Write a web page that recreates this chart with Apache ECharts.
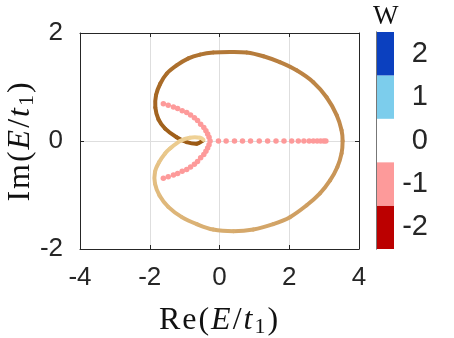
<!DOCTYPE html>
<html>
<head>
<meta charset="utf-8">
<script src="https://cdn.jsdelivr.net/npm/echarts@6/dist/echarts.min.js"></script>
<style>
  html, body { margin: 0; padding: 0; background: #fff; }
  #chart { width: 454px; height: 338px; }
</style>
</head>
<body>
<div id="chart"></div>
<script>
// 周期边界谱 (闭合曲线), 从尖点出发沿深色支绕一圈
const curveRe = [-0.47, -0.65, -0.94, -1.23, -1.56, -1.75, -1.84, -1.82, -1.70, -1.51,
  -1.23, -0.89, -0.56, -0.18, 0.30, 0.78, 1.26, 1.73, 2.21, 2.69,
  3.07, 3.36, 3.50, 3.53, 3.50, 3.38, 3.17, 2.88, 2.50, 2.02,
  1.54, 0.97, 0.40, -0.18, -0.65, -1.08, -1.47, -1.72, -1.85, -1.85,
  -1.73, -1.56, -1.42, -1.13, -0.85, -0.56, -0.46];
const curveIm = [0.01, -0.05, -0.02, 0.07, 0.23, 0.40, 0.62, 0.85, 1.06, 1.25,
  1.40, 1.53, 1.60, 1.64, 1.65, 1.64, 1.57, 1.46, 1.31, 1.09,
  0.81, 0.48, 0.20, 0.00, -0.23, -0.48, -0.73, -0.97, -1.19, -1.41,
  -1.54, -1.64, -1.67, -1.64, -1.54, -1.41, -1.22, -1.01, -0.79, -0.57,
  -0.39, -0.23, -0.14, 0.00, 0.06, 0.06, 0.02];

// 开边界本征值
const obcRe = [-1.61, -1.47, -1.32, -1.20, -1.07, -0.94, -0.83, -0.72, -0.63, -0.54, -0.45, -0.39, -0.34, -0.30,
  -0.27, -0.03, 0.19, 0.43, 0.66, 0.89, 1.14, 1.38, 1.62, 1.85, 2.07, 2.26, 2.42, 2.57, 2.69, 2.80, 2.90, 2.99, 3.05,
  -0.30, -0.34, -0.39, -0.45, -0.54, -0.63, -0.72, -0.83, -0.94, -1.07, -1.20, -1.32, -1.47, -1.61];
const obcIm = [0.69, 0.66, 0.63, 0.60, 0.56, 0.53, 0.48, 0.43, 0.38, 0.31, 0.25, 0.19, 0.13, 0.07,
  0, 0, 0, 0, 0, 0, 0, 0, 0, 0, 0, 0, 0, 0, 0, 0, 0, 0, 0,
  -0.07, -0.13, -0.19, -0.25, -0.31, -0.38, -0.43, -0.48, -0.53, -0.56, -0.60, -0.63, -0.66, -0.69];

const xTicks = [-4, -2, 0, 2, 4];
const yTicks = [-2, 0, 2];
// 颜色条 (绕数 W)
const windingLabels = ["-2", "-1", "0", "1", "2"];
const windingColors = ["#bb0000", "#fd9a9a", "#ffffff", "#7ccdec", "#0b40bf"];

const axisColor = "#262626";
const sansFont = "'Liberation Sans', Arial, sans-serif";
const serifFont = "'Liberation Serif', 'Times New Roman', serif";

// 曲线颜色: 深棕 -> 浅棕
const colorStops = [[154, 88, 18], [196, 142, 80], [241, 212, 152]];
function curveColor(t) {
  let seg = t < 0.5 ? 0 : 1;
  let f = t < 0.5 ? t / 0.5 : (t - 0.5) / 0.5;
  let a = colorStops[seg], b = colorStops[seg + 1];
  let c = a.map((v, i) => Math.round(v + (b[i] - v) * f));
  return "rgb(" + c.join(",") + ")";
}

const curvePoints = curveRe.map((x, i) => [x, curveIm[i]]);
const nPts = curvePoints.length;

// 每段画成三次贝塞尔 (Catmull-Rom 切线, 像素空间), 逐段取色
function renderSegment(params, api) {
  let i = params.dataIndexInside;
  if (i >= nPts - 1) return null;
  let pt = (k) => {
    k = Math.max(0, Math.min(nPts - 1, k));
    return api.coord([api.value(0, k), api.value(1, k)]);
  };
  let p0 = pt(i - 1), p1 = pt(i), p2 = pt(i + 1), p3 = pt(i + 2);
  return {
    type: "bezierCurve",
    shape: {
      x1: p1[0], y1: p1[1], x2: p2[0], y2: p2[1],
      cpx1: p1[0] + (p2[0] - p0[0]) / 6, cpy1: p1[1] + (p2[1] - p0[1]) / 6,
      cpx2: p2[0] - (p3[0] - p1[0]) / 6, cpy2: p2[1] - (p3[1] - p1[1]) / 6,
    },
    style: { stroke: curveColor(i / (nPts - 2)), fill: null, lineWidth: 4, lineCap: "round" },
  };
}

// 轴标题: 每个字符单独一段, 加一点字距
function nameRich(size) {
  return {
    n: { fontFamily: serifFont, fontSize: size, color: "#111", padding: [0, 2, 0, 0] },
    i: { fontFamily: serifFont, fontSize: size, fontStyle: "italic", color: "#111", padding: [0, 2, 0, 0] },
    s: { fontFamily: serifFont, fontSize: Math.round(size * 0.68), color: "#111", padding: [13, 2, 0, 0] },
  };
}
function axisName(prefix) {
  return prefix.split("").map((ch) => "{n|" + ch + "}").join("") +
    "{n|(}{i|E}{n|/}{i|t}{s|1}{n|)}";
}

const option = {
  animation: false,
  title: {
    text: "W",
    left: 368,
    top: -2,
    textStyle: { fontFamily: serifFont, fontSize: 27, fontWeight: "normal", color: "#111" },
  },
  grid: [
    { left: 80, top: 33, width: 279, height: 216, outerBoundsMode: "none", containLabel: false },
    { left: 376, top: 32, width: 18, height: 217, outerBoundsMode: "none", containLabel: false },
  ],
  xAxis: [
    {
      gridIndex: 0,
      type: "value",
      min: xTicks[0],
      max: xTicks[xTicks.length - 1],
      interval: 2,
      axisLine: { onZero: false, lineStyle: { color: axisColor, width: 1 } },
      axisTick: { inside: true, length: 4, lineStyle: { color: axisColor } },
      axisLabel: { fontFamily: sansFont, fontSize: 26, color: axisColor, margin: 16 },
      splitLine: { lineStyle: { color: "#dedede", width: 1 } },
      name: axisName("Re"),
      nameLocation: "middle",
      nameGap: 54,
      nameMoveOverlap: false,
      nameTextStyle: { rich: nameRich(32) },
    },
    {
      gridIndex: 0,
      type: "value",
      position: "top",
      min: xTicks[0],
      max: xTicks[xTicks.length - 1],
      interval: 2,
      axisLine: { onZero: false, lineStyle: { color: axisColor, width: 1 } },
      axisTick: { inside: true, length: 4, lineStyle: { color: axisColor } },
      axisLabel: { show: false },
      splitLine: { show: false },
    },
    {
      gridIndex: 1,
      type: "value",
      min: 0,
      max: 1,
      z: 5,
      axisLine: { lineStyle: { color: "#777" } },
      axisTick: { show: false },
      axisLabel: { show: false },
      splitLine: { show: false },
    },
    {
      gridIndex: 1,
      type: "value",
      position: "top",
      min: 0,
      max: 1,
      z: 5,
      axisLine: { lineStyle: { color: "#777" } },
      axisTick: { show: false },
      axisLabel: { show: false },
      splitLine: { show: false },
    },
  ],
  yAxis: [
    {
      gridIndex: 0,
      type: "value",
      min: yTicks[0],
      max: yTicks[yTicks.length - 1],
      interval: 2,
      axisLine: { onZero: false, lineStyle: { color: axisColor, width: 1 } },
      axisTick: { inside: true, length: 4, lineStyle: { color: axisColor } },
      axisLabel: { fontFamily: sansFont, fontSize: 26, color: axisColor, margin: 17 },
      splitLine: { lineStyle: { color: "#dedede", width: 1 } },
      name: axisName("Im"),
      nameLocation: "middle",
      nameGap: 42,
      nameMoveOverlap: false,
      nameTextStyle: { rich: nameRich(32) },
    },
    {
      gridIndex: 0,
      type: "value",
      position: "right",
      min: yTicks[0],
      max: yTicks[yTicks.length - 1],
      interval: 2,
      axisLine: { onZero: false, lineStyle: { color: axisColor, width: 1 } },
      axisTick: { inside: true, length: 4, lineStyle: { color: axisColor } },
      axisLabel: { show: false },
      splitLine: { show: false },
    },
    {
      gridIndex: 1,
      type: "category",
      position: "right",
      data: windingLabels,
      z: 5,
      axisLine: { lineStyle: { color: "#777" } },
      axisTick: { show: false },
      axisLabel: { fontFamily: sansFont, fontSize: 29, color: axisColor, margin: 34, align: "right" },
    },
    {
      gridIndex: 1,
      type: "category",
      position: "left",
      data: windingLabels,
      z: 5,
      axisLine: { lineStyle: { color: "#777" } },
      axisTick: { show: false },
      axisLabel: { show: false },
    },
  ],
  series: [
    {
      type: "custom",
      coordinateSystem: "cartesian2d",
      xAxisIndex: 0,
      yAxisIndex: 0,
      data: curvePoints,
      renderItem: renderSegment,
      z: 2,
    },
    {
      type: "scatter",
      xAxisIndex: 0,
      yAxisIndex: 0,
      symbolSize: 5.5,
      itemStyle: { color: "#fd9a9a", opacity: 1 },
      data: obcRe.map((x, i) => [x, obcIm[i]]),
      z: 3,
    },
    {
      type: "bar",
      xAxisIndex: 2,
      yAxisIndex: 2,
      barWidth: "100%",
      data: windingLabels.map((w, i) => ({ value: 1, itemStyle: { color: windingColors[i] } })),
      z: 2,
    },
  ],
};

let myChart = echarts.init(document.getElementById("chart"));
myChart.setOption(option, true);
window.addEventListener("resize", () => {
  myChart.resize();
});
</script>
</body>
</html>
